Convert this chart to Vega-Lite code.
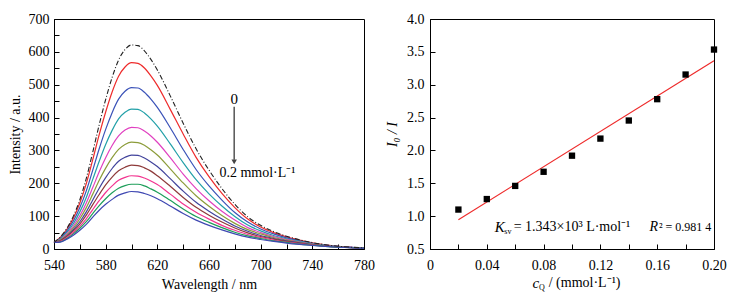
{
"$schema": "https://vega.github.io/schema/vega-lite/v6.json",
"background": "white",
"padding": {"left": 7, "top": 11, "right": 5, "bottom": 5},
"spacing": 10,
"config": {
  "font": "Liberation Serif",
  "view": {"stroke": "black", "strokeWidth": 1},
  "axis": {"domainColor": "black", "tickColor": "black", "labelColor": "black", "titleColor": "black",
    "labelFont": "Liberation Serif", "titleFont": "Liberation Serif", "labelFontSize": 14, "titleFontSize": 14,
    "titleFontWeight": "normal", "grid": false, "tickSize": -5, "labelFlush": false, "labelOverlap": false},
  "axisX": {"labelPadding": 14, "titlePadding": 5},
  "axisY": {"labelPadding": 10, "titlePadding": 6}
},
"datasets": {
  "spectra": [
    {"w":540,"s":0,"v":20},{"w":540,"s":1,"v":20},{"w":540,"s":2,"v":20},{"w":540,"s":3,"v":20},{"w":540,"s":4,"v":20},{"w":540,"s":5,"v":20},{"w":540,"s":6,"v":20},{"w":540,"s":7,"v":20},{"w":540,"s":8,"v":20},{"w":540,"s":9,"v":20},{"w":540,"s":10,"v":20},
    {"w":545,"s":0,"v":37},{"w":545,"s":1,"v":36},{"w":545,"s":2,"v":33},{"w":545,"s":3,"v":31},{"w":545,"s":4,"v":29},{"w":545,"s":5,"v":28},{"w":545,"s":6,"v":26},{"w":545,"s":7,"v":25},{"w":545,"s":8,"v":23},{"w":545,"s":9,"v":22},{"w":545,"s":10,"v":21},
    {"w":550,"s":0,"v":63},{"w":550,"s":1,"v":60},{"w":550,"s":2,"v":55},{"w":550,"s":3,"v":51},{"w":550,"s":4,"v":47},{"w":550,"s":5,"v":43},{"w":550,"s":6,"v":40},{"w":550,"s":7,"v":38},{"w":550,"s":8,"v":35},{"w":550,"s":9,"v":32},{"w":550,"s":10,"v":30},
    {"w":555,"s":0,"v":100},{"w":555,"s":1,"v":94},{"w":555,"s":2,"v":85},{"w":555,"s":3,"v":77},{"w":555,"s":4,"v":70},{"w":555,"s":5,"v":64},{"w":555,"s":6,"v":59},{"w":555,"s":7,"v":55},{"w":555,"s":8,"v":50},{"w":555,"s":9,"v":46},{"w":555,"s":10,"v":42},
    {"w":560,"s":0,"v":150},{"w":560,"s":1,"v":140},{"w":560,"s":2,"v":126},{"w":560,"s":3,"v":113},{"w":560,"s":4,"v":101},{"w":560,"s":5,"v":92},{"w":560,"s":6,"v":83},{"w":560,"s":7,"v":76},{"w":560,"s":8,"v":69},{"w":560,"s":9,"v":63},{"w":560,"s":10,"v":57},
    {"w":565,"s":0,"v":215},{"w":565,"s":1,"v":199},{"w":565,"s":2,"v":177},{"w":565,"s":3,"v":157},{"w":565,"s":4,"v":140},{"w":565,"s":5,"v":126},{"w":565,"s":6,"v":113},{"w":565,"s":7,"v":103},{"w":565,"s":8,"v":92},{"w":565,"s":9,"v":83},{"w":565,"s":10,"v":75},
    {"w":570,"s":0,"v":295},{"w":570,"s":1,"v":272},{"w":570,"s":2,"v":240},{"w":570,"s":3,"v":212},{"w":570,"s":4,"v":187},{"w":570,"s":5,"v":167},{"w":570,"s":6,"v":149},{"w":570,"s":7,"v":135},{"w":570,"s":8,"v":120},{"w":570,"s":9,"v":108},{"w":570,"s":10,"v":97},
    {"w":575,"s":0,"v":378},{"w":575,"s":1,"v":348},{"w":575,"s":2,"v":305},{"w":575,"s":3,"v":267},{"w":575,"s":4,"v":235},{"w":575,"s":5,"v":209},{"w":575,"s":6,"v":185},{"w":575,"s":7,"v":166},{"w":575,"s":8,"v":147},{"w":575,"s":9,"v":132},{"w":575,"s":10,"v":118},
    {"w":580,"s":0,"v":455},{"w":580,"s":1,"v":417},{"w":580,"s":2,"v":364},{"w":580,"s":3,"v":318},{"w":580,"s":4,"v":278},{"w":580,"s":5,"v":246},{"w":580,"s":6,"v":217},{"w":580,"s":7,"v":195},{"w":580,"s":8,"v":172},{"w":580,"s":9,"v":153},{"w":580,"s":10,"v":136},
    {"w":585,"s":0,"v":522},{"w":585,"s":1,"v":478},{"w":585,"s":2,"v":415},{"w":585,"s":3,"v":361},{"w":585,"s":4,"v":315},{"w":585,"s":5,"v":278},{"w":585,"s":6,"v":245},{"w":585,"s":7,"v":219},{"w":585,"s":8,"v":192},{"w":585,"s":9,"v":171},{"w":585,"s":10,"v":151},
    {"w":590,"s":0,"v":575},{"w":590,"s":1,"v":526},{"w":590,"s":2,"v":456},{"w":590,"s":3,"v":396},{"w":590,"s":4,"v":344},{"w":590,"s":5,"v":303},{"w":590,"s":6,"v":267},{"w":590,"s":7,"v":238},{"w":590,"s":8,"v":209},{"w":590,"s":9,"v":185},{"w":590,"s":10,"v":164},
    {"w":595,"s":0,"v":607},{"w":595,"s":1,"v":554},{"w":595,"s":2,"v":480},{"w":595,"s":3,"v":416},{"w":595,"s":4,"v":362},{"w":595,"s":5,"v":318},{"w":595,"s":6,"v":279},{"w":595,"s":7,"v":249},{"w":595,"s":8,"v":218},{"w":595,"s":9,"v":193},{"w":595,"s":10,"v":171},
    {"w":600,"s":0,"v":621},{"w":600,"s":1,"v":567},{"w":600,"s":2,"v":491},{"w":600,"s":3,"v":426},{"w":600,"s":4,"v":370},{"w":600,"s":5,"v":325},{"w":600,"s":6,"v":286},{"w":600,"s":7,"v":255},{"w":600,"s":8,"v":223},{"w":600,"s":9,"v":197},{"w":600,"s":10,"v":175},
    {"w":605,"s":0,"v":619},{"w":605,"s":1,"v":565},{"w":605,"s":2,"v":490},{"w":605,"s":3,"v":425},{"w":605,"s":4,"v":369},{"w":605,"s":5,"v":324},{"w":605,"s":6,"v":285},{"w":605,"s":7,"v":254},{"w":605,"s":8,"v":222},{"w":605,"s":9,"v":197},{"w":605,"s":10,"v":174},
    {"w":610,"s":0,"v":603},{"w":610,"s":1,"v":551},{"w":610,"s":2,"v":477},{"w":610,"s":3,"v":414},{"w":610,"s":4,"v":359},{"w":610,"s":5,"v":316},{"w":610,"s":6,"v":277},{"w":610,"s":7,"v":247},{"w":610,"s":8,"v":216},{"w":610,"s":9,"v":192},{"w":610,"s":10,"v":169},
    {"w":615,"s":0,"v":577},{"w":615,"s":1,"v":527},{"w":615,"s":2,"v":456},{"w":615,"s":3,"v":396},{"w":615,"s":4,"v":344},{"w":615,"s":5,"v":302},{"w":615,"s":6,"v":265},{"w":615,"s":7,"v":237},{"w":615,"s":8,"v":207},{"w":615,"s":9,"v":183},{"w":615,"s":10,"v":162},
    {"w":620,"s":0,"v":545},{"w":620,"s":1,"v":498},{"w":620,"s":2,"v":431},{"w":620,"s":3,"v":374},{"w":620,"s":4,"v":325},{"w":620,"s":5,"v":286},{"w":620,"s":6,"v":251},{"w":620,"s":7,"v":223},{"w":620,"s":8,"v":196},{"w":620,"s":9,"v":173},{"w":620,"s":10,"v":153},
    {"w":630,"s":0,"v":466},{"w":630,"s":1,"v":425},{"w":630,"s":2,"v":369},{"w":630,"s":3,"v":320},{"w":630,"s":4,"v":278},{"w":630,"s":5,"v":244},{"w":630,"s":6,"v":214},{"w":630,"s":7,"v":191},{"w":630,"s":8,"v":167},{"w":630,"s":9,"v":148},{"w":630,"s":10,"v":131},
    {"w":640,"s":0,"v":383},{"w":640,"s":1,"v":350},{"w":640,"s":2,"v":303},{"w":640,"s":3,"v":263},{"w":640,"s":4,"v":228},{"w":640,"s":5,"v":201},{"w":640,"s":6,"v":176},{"w":640,"s":7,"v":157},{"w":640,"s":8,"v":137},{"w":640,"s":9,"v":122},{"w":640,"s":10,"v":108},
    {"w":650,"s":0,"v":305},{"w":650,"s":1,"v":279},{"w":650,"s":2,"v":242},{"w":650,"s":3,"v":211},{"w":650,"s":4,"v":184},{"w":650,"s":5,"v":162},{"w":650,"s":6,"v":142},{"w":650,"s":7,"v":127},{"w":650,"s":8,"v":112},{"w":650,"s":9,"v":99},{"w":650,"s":10,"v":88},
    {"w":660,"s":0,"v":240},{"w":660,"s":1,"v":220},{"w":660,"s":2,"v":192},{"w":660,"s":3,"v":168},{"w":660,"s":4,"v":147},{"w":660,"s":5,"v":130},{"w":660,"s":6,"v":115},{"w":660,"s":7,"v":103},{"w":660,"s":8,"v":91},{"w":660,"s":9,"v":81},{"w":660,"s":10,"v":72},
    {"w":670,"s":0,"v":184},{"w":670,"s":1,"v":169},{"w":670,"s":2,"v":149},{"w":670,"s":3,"v":131},{"w":670,"s":4,"v":115},{"w":670,"s":5,"v":102},{"w":670,"s":6,"v":91},{"w":670,"s":7,"v":82},{"w":670,"s":8,"v":72},{"w":670,"s":9,"v":65},{"w":670,"s":10,"v":58},
    {"w":680,"s":0,"v":136},{"w":680,"s":1,"v":126},{"w":680,"s":2,"v":111},{"w":680,"s":3,"v":99},{"w":680,"s":4,"v":88},{"w":680,"s":5,"v":78},{"w":680,"s":6,"v":70},{"w":680,"s":7,"v":64},{"w":680,"s":8,"v":57},{"w":680,"s":9,"v":51},{"w":680,"s":10,"v":46},
    {"w":690,"s":0,"v":98},{"w":690,"s":1,"v":91},{"w":690,"s":2,"v":82},{"w":690,"s":3,"v":73},{"w":690,"s":4,"v":65},{"w":690,"s":5,"v":59},{"w":690,"s":6,"v":54},{"w":690,"s":7,"v":49},{"w":690,"s":8,"v":44},{"w":690,"s":9,"v":40},{"w":690,"s":10,"v":36},
    {"w":700,"s":0,"v":72},{"w":700,"s":1,"v":67},{"w":700,"s":2,"v":61},{"w":700,"s":3,"v":55},{"w":700,"s":4,"v":50},{"w":700,"s":5,"v":46},{"w":700,"s":6,"v":41},{"w":700,"s":7,"v":38},{"w":700,"s":8,"v":35},{"w":700,"s":9,"v":32},{"w":700,"s":10,"v":29},
    {"w":710,"s":0,"v":53},{"w":710,"s":1,"v":50},{"w":710,"s":2,"v":46},{"w":710,"s":3,"v":41},{"w":710,"s":4,"v":38},{"w":710,"s":5,"v":35},{"w":710,"s":6,"v":32},{"w":710,"s":7,"v":30},{"w":710,"s":8,"v":27},{"w":710,"s":9,"v":25},{"w":710,"s":10,"v":23},
    {"w":720,"s":0,"v":39},{"w":720,"s":1,"v":37},{"w":720,"s":2,"v":34},{"w":720,"s":3,"v":31},{"w":720,"s":4,"v":29},{"w":720,"s":5,"v":27},{"w":720,"s":6,"v":25},{"w":720,"s":7,"v":23},{"w":720,"s":8,"v":21},{"w":720,"s":9,"v":20},{"w":720,"s":10,"v":18},
    {"w":730,"s":0,"v":28},{"w":730,"s":1,"v":27},{"w":730,"s":2,"v":25},{"w":730,"s":3,"v":23},{"w":730,"s":4,"v":21},{"w":730,"s":5,"v":20},{"w":730,"s":6,"v":19},{"w":730,"s":7,"v":17},{"w":730,"s":8,"v":16},{"w":730,"s":9,"v":15},{"w":730,"s":10,"v":14},
    {"w":740,"s":0,"v":19.5},{"w":740,"s":1,"v":18.7},{"w":740,"s":2,"v":17.5},{"w":740,"s":3,"v":16.3},{"w":740,"s":4,"v":15.3},{"w":740,"s":5,"v":14.4},{"w":740,"s":6,"v":13.5},{"w":740,"s":7,"v":12.8},{"w":740,"s":8,"v":12},{"w":740,"s":9,"v":11.4},{"w":740,"s":10,"v":10.7},
    {"w":750,"s":0,"v":13},{"w":750,"s":1,"v":12.5},{"w":750,"s":2,"v":11.8},{"w":750,"s":3,"v":11.1},{"w":750,"s":4,"v":10.5},{"w":750,"s":5,"v":10},{"w":750,"s":6,"v":9.5},{"w":750,"s":7,"v":9},{"w":750,"s":8,"v":8.5},{"w":750,"s":9,"v":8.1},{"w":750,"s":10,"v":7.7},
    {"w":760,"s":0,"v":8.5},{"w":760,"s":1,"v":8.2},{"w":760,"s":2,"v":7.8},{"w":760,"s":3,"v":7.5},{"w":760,"s":4,"v":7.1},{"w":760,"s":5,"v":6.8},{"w":760,"s":6,"v":6.5},{"w":760,"s":7,"v":6.2},{"w":760,"s":8,"v":5.9},{"w":760,"s":9,"v":5.7},{"w":760,"s":10,"v":5.4},
    {"w":770,"s":0,"v":5.5},{"w":770,"s":1,"v":5.4},{"w":770,"s":2,"v":5.1},{"w":770,"s":3,"v":4.9},{"w":770,"s":4,"v":4.7},{"w":770,"s":5,"v":4.5},{"w":770,"s":6,"v":4.4},{"w":770,"s":7,"v":4.2},{"w":770,"s":8,"v":4},{"w":770,"s":9,"v":3.9},{"w":770,"s":10,"v":3.8},
    {"w":780,"s":0,"v":3.5},{"w":780,"s":1,"v":3.4},{"w":780,"s":2,"v":3.3},{"w":780,"s":3,"v":3.2},{"w":780,"s":4,"v":3.1},{"w":780,"s":5,"v":3},{"w":780,"s":6,"v":2.9},{"w":780,"s":7,"v":2.8},{"w":780,"s":8,"v":2.7},{"w":780,"s":9,"v":2.6},{"w":780,"s":10,"v":2.5}
  ],
  "quench": [
    {"c":0.02,"r":1.10},{"c":0.04,"r":1.26},{"c":0.06,"r":1.46},{"c":0.08,"r":1.675},{"c":0.10,"r":1.92},
    {"c":0.12,"r":2.18},{"c":0.14,"r":2.455},{"c":0.16,"r":2.78},{"c":0.18,"r":3.155},{"c":0.20,"r":3.535}
  ],
  "fit": [
    {"c":0.02,"r":0.946},{"c":0.20,"r":3.364}
  ]
},
"hconcat": [
  {
    "width": 310, "height": 230,
    "layer": [
      {
        "data": {"name": "spectra"},
        "transform": [{"filter": "datum.s > 0"}],
        "mark": {"type": "line", "interpolate": "monotone", "strokeWidth": 1.2},
        "encoding": {
          "x": {"field": "w", "type": "quantitative", "scale": {"domain": [540, 780], "nice": false},
            "axis": {"title": "Wavelength / nm", "tickCount": 100, "labelOverlap": false, "values": [540,560,580,600,620,640,660,680,700,720,740,760,780],
              "labelExpr": "(datum.value - 540) % 40 == 0 ? datum.label : ''"}},
          "y": {"field": "v", "type": "quantitative", "scale": {"domain": [0, 700], "nice": false},
            "axis": {"title": "Intensity / a.u.", "tickCount": 100, "labelOverlap": false, "values": [0,50,100,150,200,250,300,350,400,450,500,550,600,650,700],
              "labelExpr": "datum.value % 100 == 0 ? datum.label : ''"}},
          "color": {"field": "s", "type": "nominal", "legend": null,
            "scale": {"domain": [1,2,3,4,5,6,7,8,9,10],
              "range": ["#ee2b2b","#3a52b8","#22a0a8","#e040c0","#8c9c3a","#42449c","#8e3a3a","#f23590","#1e9e5a","#3f48b2"]}}
        }
      },
      {
        "data": {"name": "spectra"},
        "transform": [{"filter": "datum.s == 0"}],
        "mark": {"type": "line", "interpolate": "monotone", "color": "#222222", "strokeWidth": 1.1, "strokeDash": [5, 2, 1, 2]},
        "encoding": {
          "x": {"field": "w", "type": "quantitative"},
          "y": {"field": "v", "type": "quantitative"}
        }
      },
      {
        "data": {"values": [{}]},
        "mark": {"type": "rule", "color": "#555555", "strokeWidth": 1.5},
        "encoding": {"x": {"datum": 679.5}, "y": {"datum": 433}, "y2": {"datum": 272}}
      },
      {
        "data": {"values": [{}]},
        "mark": {"type": "point", "shape": "triangle-down", "filled": true, "color": "#444444", "size": 30, "opacity": 1},
        "encoding": {"x": {"datum": 679.5}, "y": {"datum": 265}}
      },
      {
        "data": {"values": [{}]},
        "mark": {"type": "text", "text": "0", "font": "Liberation Serif", "fontSize": 15, "align": "center", "baseline": "middle", "color": "black"},
        "encoding": {"x": {"datum": 679.5}, "y": {"datum": 456}}
      },
      {
        "data": {"values": [{}]},
        "mark": {"type": "text", "text": "0.2 mmol·L⁻¹", "font": "Liberation Serif", "fontSize": 14, "align": "center", "baseline": "middle", "color": "black"},
        "encoding": {"x": {"datum": 697.5}, "y": {"datum": 230}}
      }
    ]
  },
  {
    "width": 284, "height": 230,
    "layer": [
      {
        "data": {"name": "fit"},
        "mark": {"type": "line", "color": "#ee2b2b", "strokeWidth": 1.2},
        "encoding": {
          "x": {"field": "c", "type": "quantitative", "scale": {"domain": [0, 0.2], "nice": false},
            "axis": {"title": null, "tickCount": 100, "labelOverlap": false, "values": [0,0.02,0.04,0.06,0.08,0.1,0.12,0.14,0.16,0.18,0.2],
              "labelExpr": "round(datum.value * 100) % 4 == 0 ? (datum.value == 0 ? '0' : format(datum.value, '.2f')) : ''"}},
          "y": {"field": "r", "type": "quantitative", "scale": {"domain": [0.5, 4.0], "nice": false},
            "axis": {"title": "I₀ / I", "titleFontStyle": "italic", "tickCount": 100, "labelOverlap": false, "values": [0.5,1,1.5,2,2.5,3,3.5,4], "format": ".1f", "labelPadding": 11, "titlePadding": 7}}
        }
      },
      {
        "data": {"name": "quench"},
        "mark": {"type": "point", "shape": "square", "filled": true, "color": "black", "size": 40, "opacity": 1},
        "encoding": {
          "x": {"field": "c", "type": "quantitative"},
          "y": {"field": "r", "type": "quantitative"}
        }
      },
      {
        "data": {"values": [{}]},
        "mark": {"type": "text", "text": "K", "font": "Liberation Serif", "fontStyle": "italic", "fontSize": 15, "align": "left", "baseline": "middle", "color": "black"},
        "encoding": {"x": {"datum": 0.0456}, "y": {"datum": 0.835}}
      },
      {
        "data": {"values": [{}]},
        "mark": {"type": "text", "text": "sv", "font": "Liberation Serif", "fontSize": 8, "align": "left", "baseline": "middle", "color": "black", "dy": 5},
        "encoding": {"x": {"datum": 0.0523}, "y": {"datum": 0.835}}
      },
      {
        "data": {"values": [{}]},
        "mark": {"type": "text", "text": "= 1.343×10³ L·mol⁻¹", "font": "Liberation Serif", "fontSize": 14, "align": "left", "baseline": "middle", "color": "black"},
        "encoding": {"x": {"datum": 0.0589}, "y": {"datum": 0.835}}
      },
      {
        "data": {"values": [{}]},
        "mark": {"type": "text", "text": "R", "font": "Liberation Serif", "fontStyle": "italic", "fontSize": 14, "align": "left", "baseline": "middle", "color": "black"},
        "encoding": {"x": {"datum": 0.1545}, "y": {"datum": 0.835}}
      },
      {
        "data": {"values": [{}]},
        "mark": {"type": "text", "text": "² = 0.981 4", "font": "Liberation Serif", "fontSize": 12, "align": "left", "baseline": "middle", "color": "black"},
        "encoding": {"x": {"datum": 0.1612}, "y": {"datum": 0.835}}
      },
      {
        "data": {"values": [{}]},
        "mark": {"type": "text", "text": "c", "font": "Liberation Serif", "fontStyle": "italic", "fontSize": 15, "align": "left", "baseline": "middle", "color": "black", "dy": 34},
        "encoding": {"x": {"datum": 0.0722}, "y": {"datum": 0.5}}
      },
      {
        "data": {"values": [{}]},
        "mark": {"type": "text", "text": "Q", "font": "Liberation Serif", "fontSize": 8, "align": "left", "baseline": "middle", "color": "black", "dy": 39},
        "encoding": {"x": {"datum": 0.0768}, "y": {"datum": 0.5}}
      },
      {
        "data": {"values": [{}]},
        "mark": {"type": "text", "text": "/ (mmol·L⁻¹)", "font": "Liberation Serif", "fontSize": 14, "align": "left", "baseline": "middle", "color": "black", "dy": 34},
        "encoding": {"x": {"datum": 0.0836}, "y": {"datum": 0.5}}
      }
    ]
  }
]
}
